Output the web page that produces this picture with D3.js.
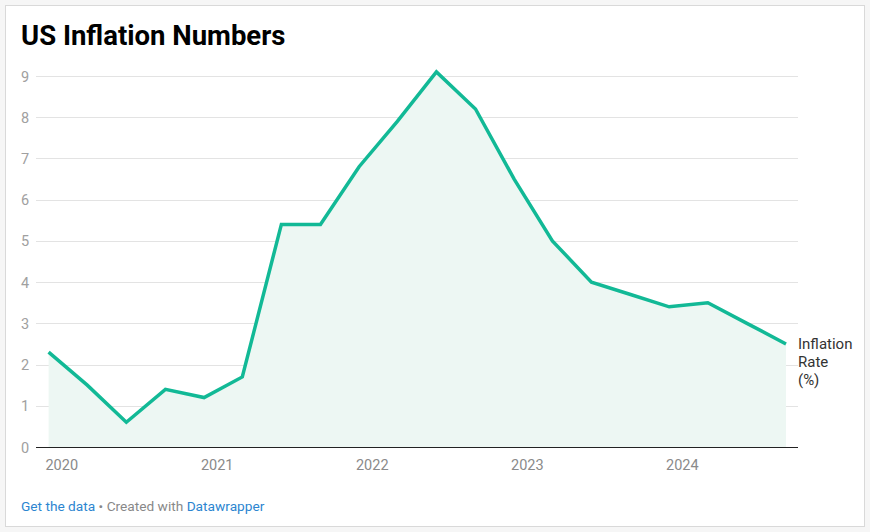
<!DOCTYPE html>
<html>
<head>
<meta charset="utf-8">
<script src="https://cdn.jsdelivr.net/npm/d3@7"></script>
<style>
  html, body { margin: 0; padding: 0; background: #f6f6f6; }
  svg { display: block; font-family: Roboto, "Noto Sans", sans-serif; }
</style>
</head>
<body>
<svg id="chart" width="870" height="532"></svg>
<script>
const dates = ["2019-12-01","2020-03-01","2020-06-01","2020-09-01","2020-12-01","2021-03-01","2021-06-01","2021-09-01","2021-12-01","2022-03-01","2022-06-01","2022-09-01","2022-12-01","2023-03-01","2023-06-01","2023-09-01","2023-12-01","2024-03-01","2024-06-01","2024-09-01"];
const inflationRate = [2.3, 1.5, 0.6, 1.4, 1.2, 1.7, 5.4, 5.4, 6.8, 7.9, 9.1, 8.2, 6.5, 5.0, 4.0, 3.7, 3.4, 3.5, 3.0, 2.5];
const yTicks = [0, 1, 2, 3, 4, 5, 6, 7, 8, 9];
const xTickLabels = ["2020", "2021", "2022", "2023", "2024"];
const title = "US Inflation Numbers";
const seriesLabel = ["Inflation", "Rate", "(%)"];

const parse = d3.utcParse("%Y-%m-%d");
const data = dates.map((d, i) => ({ date: parse(d), value: inflationRate[i] }));

const svg = d3.select("#chart");

// card
svg.append("rect").attr("x", 5.5).attr("y", 5.5).attr("width", 859).attr("height", 521)
  .attr("fill", "#ffffff").attr("stroke", "#d9d9d9").attr("stroke-width", 1);

svg.append("text").attr("x", 21).attr("y", 45).text(title)
  .attr("font-size", 27.5).attr("font-weight", 700).attr("fill", "#000");

const x = d3.scaleUtc()
  .domain([parse(dates[0]), parse(dates[dates.length - 1])])
  .range([48.6, 786]);
const y = d3.scaleLinear().domain([0, 9]).range([447, 76]);

const gridLeft = 36, gridRight = 798;

// gridlines
const grid = svg.append("g");
yTicks.filter(t => t !== 0).forEach(t => {
  grid.append("line")
    .attr("x1", gridLeft).attr("x2", gridRight)
    .attr("y1", Math.round(y(t)) + 0.5).attr("y2", Math.round(y(t)) + 0.5)
    .attr("stroke", "#e3e3e3").attr("stroke-width", 1);
});

// y labels
svg.append("g").selectAll("text").data(yTicks).join("text")
  .attr("x", 21).attr("y", d => y(d) + 5.5)
  .attr("font-size", 14.5).attr("fill", "#a0a0a0").text(d => d);

// area
const area = d3.area().x(d => x(d.date)).y0(y(0)).y1(d => y(d.value));
svg.append("path").datum(data).attr("d", area).attr("fill", "#edf7f3");

// baseline
svg.append("line").attr("x1", gridLeft).attr("x2", gridRight)
  .attr("y1", Math.round(y(0)) + 0.5).attr("y2", Math.round(y(0)) + 0.5)
  .attr("stroke", "#222").attr("stroke-width", 1);

// line
const line = d3.line().x(d => x(d.date)).y(d => y(d.value));
svg.append("path").datum(data).attr("d", line)
  .attr("fill", "none").attr("stroke", "#12b996").attr("stroke-width", 3.5)
  .attr("stroke-linejoin", "miter").attr("stroke-linecap", "butt");

// x labels
svg.append("g").selectAll("text").data(xTickLabels).join("text")
  .attr("x", d => x(parse(d + "-01-01")))
  .attr("y", 470).attr("text-anchor", "middle")
  .attr("font-size", 14.5).attr("fill", "#8a8a8a").text(d => d);

// series label
const last = data[data.length - 1];
const lbl = svg.append("text").attr("x", 798).attr("y", y(last.value) + 5)
  .attr("font-size", 15).attr("fill", "#333");
seriesLabel.forEach((s, i) => {
  lbl.append("tspan").attr("x", 798).attr("dy", i === 0 ? 0 : 18).text(s);
});

// footer
const foot = svg.append("text").attr("x", 21).attr("y", 511).attr("font-size", 13.7);
foot.append("tspan").attr("fill", "#2c85d0").text("Get the data");
foot.append("tspan").attr("fill", "#888").text(" • Created with ");
foot.append("tspan").attr("fill", "#2c85d0").text("Datawrapper");
</script>
</body>
</html>
